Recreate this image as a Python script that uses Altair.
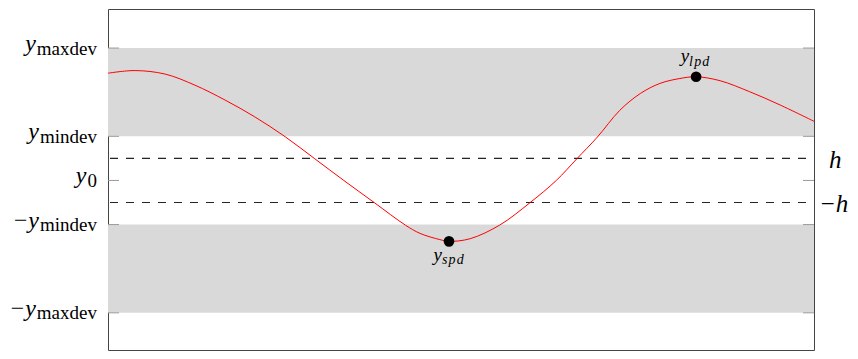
import altair as alt
import pandas as pd

# ---- data ----
band_lo = [1, -3]
band_hi = [3, -1]
h_vals = [0.5, -0.5]
h_labels = ["h", "\u2212h"]

tick_vals = [3, 1, 0, -1, -3]
tick_main = ["y", "y", "y", "\u2212y", "\u2212y"]
tick_sub = ["maxdev", "mindev", "0", "mindev", "maxdev"]

curve_t = [0.000, 0.038, 0.081, 0.123, 0.166, 0.208, 0.251, 0.293, 0.334, 0.377,
           0.421, 0.442, 0.470, 0.483, 0.513, 0.555, 0.598, 0.635, 0.664, 0.693,
           0.725, 0.754, 0.782, 0.810, 0.833, 0.867, 0.909, 0.952, 1.000]
curve_v = [2.43, 2.49, 2.41, 2.16, 1.82, 1.44, 0.99, 0.49, 0.00, -0.50,
           -1.01, -1.20, -1.34, -1.38, -1.32, -1.01, -0.50, 0.00, 0.49, 0.98,
           1.59, 1.97, 2.20, 2.31, 2.35, 2.26, 2.01, 1.71, 1.34]

pd_t = [0.483, 0.833]
pd_v = [-1.38, 2.35]
pd_sub = ["s\u200ap\u200ad", "l\u200ap\u200ad"]
pd_below = [True, False]

# ---- layout ----
W, H = 706, 341
FONT = "Liberation Serif"
xs = alt.Scale(domain=[0, 1], nice=False, zero=False)
ys = alt.Scale(domain=[-3.842, 3.885], nice=False, zero=False)

def Y(field):
    return alt.Y(field, scale=ys, axis=None)

def X(field):
    return alt.X(field, scale=xs, axis=None)

bands = alt.Chart(pd.DataFrame({"lo": band_lo, "hi": band_hi})).mark_rect(
    color="#d9d9d9").encode(x=alt.value(0), x2=alt.value(W), y=Y("lo:Q"), y2="hi:Q")

dashes = alt.Chart(pd.DataFrame({"v": h_vals})).mark_rule(
    color="#222222", strokeDash=[8, 8], strokeWidth=1.1).encode(
    x=alt.value(2), x2=alt.value(W), y=Y("v:Q"))

tick_df = pd.DataFrame({"v": tick_vals})
ticks_l = alt.Chart(tick_df).mark_rule(color="#9a9a9a", strokeWidth=1).encode(
    x=alt.value(0), x2=alt.value(11), y=Y("v:Q"))
ticks_r = alt.Chart(tick_df).mark_rule(color="#9a9a9a", strokeWidth=1).encode(
    x=alt.value(W - 11), x2=alt.value(W), y=Y("v:Q"))

curve = alt.Chart(pd.DataFrame({"t": curve_t, "v": curve_v})).mark_line(
    color="#ff0000", strokeWidth=1, interpolate="catmull-rom").encode(x=X("t:Q"), y=Y("v:Q"))

dots = alt.Chart(pd.DataFrame({"t": pd_t, "v": pd_v})).mark_circle(
    size=115, color="black", opacity=1).encode(x=X("t:Q"), y=Y("v:Q"))

layers = [bands, dashes, ticks_l, ticks_r, curve, dots]

# left tick labels: italic y + roman subscript
cw = {"m": .778, "a": .444, "x": .5, "d": .5, "e": .444, "v": .5, "i": .278, "n": .5, "0": .5}
SUB_FS = 19
for v, m, s in zip(tick_vals, tick_main, tick_sub):
    df = pd.DataFrame({"v": [v], "m": [m], "s": [s]})
    sw = sum(cw[c] for c in s) * SUB_FS
    layers.append(alt.Chart(df).mark_text(
        font=FONT, fontSize=SUB_FS, align="right", baseline="alphabetic", dy=6.5,
        color="black").encode(x=alt.value(-11), y=Y("v:Q"), text="s:N"))
    layers.append(alt.Chart(df).mark_text(
        font=FONT, fontSize=24, fontStyle="italic", align="right", baseline="alphabetic",
        dy=3, color="black").encode(x=alt.value(-11 - sw - 1), y=Y("v:Q"), text="m:N"))

# right labels h / -h
for v, lab, xo in zip(h_vals, h_labels, [721, 711]):
    df = pd.DataFrame({"v": [v], "l": [lab]})
    layers.append(alt.Chart(df).mark_text(
        font=FONT, fontSize=25, fontStyle="italic", align="left", baseline="alphabetic",
        dy=9.5, color="black").encode(x=alt.value(xo), y=Y("v:Q"), text="l:N"))

# point labels y_spd / y_lpd
for t, v, s, below in zip(pd_t, pd_v, pd_sub, pd_below):
    df = pd.DataFrame({"t": [t], "v": [v], "m": ["y"], "s": [s]})
    dy_main = 20 if below else -14.5
    dy_sub = 23 if below else -10.5
    layers.append(alt.Chart(df).mark_text(
        font=FONT, fontSize=19, fontStyle="italic", align="right", baseline="alphabetic",
        dx=-7, dy=dy_main, color="black").encode(x=X("t:Q"), y=Y("v:Q"), text="m:N"))
    layers.append(alt.Chart(df).mark_text(
        font=FONT, fontSize=14, fontStyle="italic", align="left", baseline="alphabetic",
        dx=-7, dy=dy_sub, color="black").encode(x=X("t:Q"), y=Y("v:Q"), text="s:N"))

chart = alt.layer(*layers).properties(
    width=W, height=H,
    background="white",
    autosize=alt.AutoSizeParams(type="none"),
    padding={"left": 100, "top": 1, "right": 36, "bottom": 1},
).configure_view(stroke="#444444", strokeWidth=1)

chart.save("out.html", embed_options={"renderer": "svg", "actions": False})
